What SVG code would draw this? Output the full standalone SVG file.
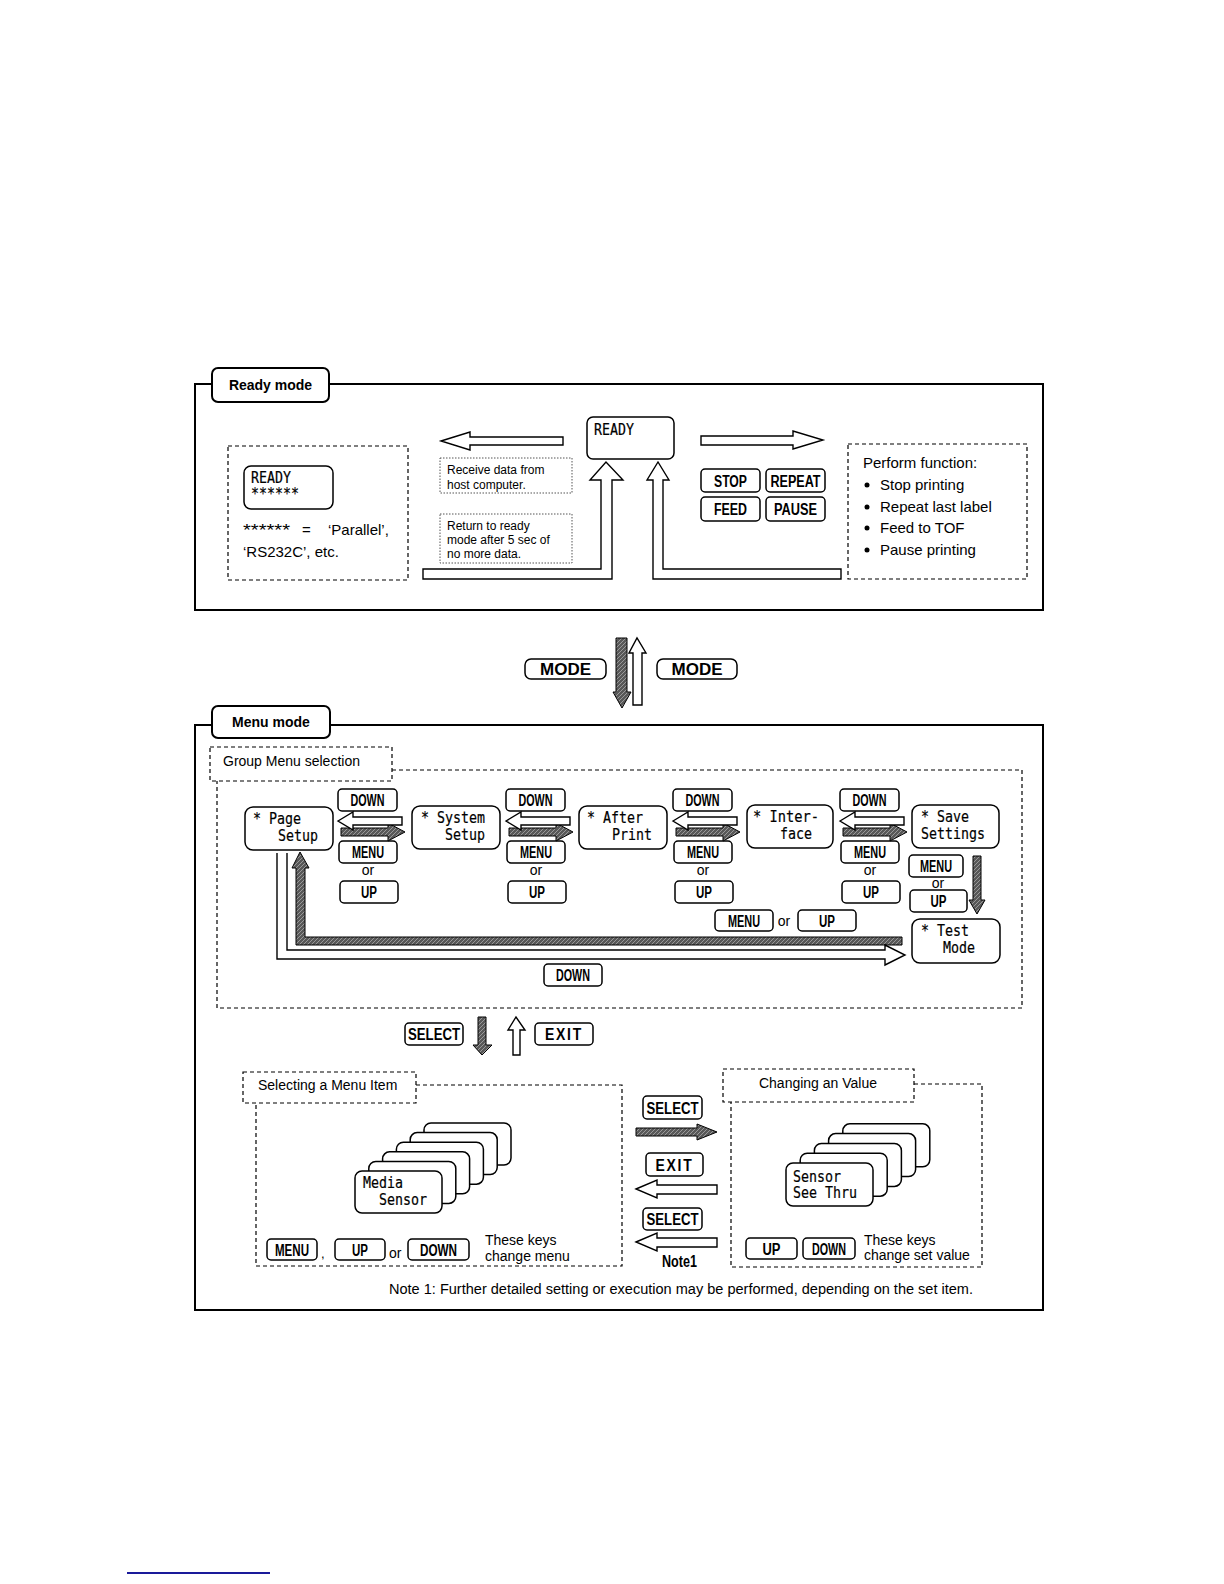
<svg xmlns="http://www.w3.org/2000/svg" width="1224" height="1584" viewBox="0 0 1224 1584">
<style>
.frame{fill:none;stroke:#000;stroke-width:2}
.tab{fill:#fff;stroke:#000;stroke-width:2}
.dash{fill:none;stroke:#000;stroke-width:1.2;stroke-dasharray:4 3}
.dashtab{fill:#fff;stroke:#000;stroke-width:1.2;stroke-dasharray:4 3}
.dot{fill:none;stroke:#555;stroke-width:1;stroke-dasharray:1.5 1.5}
.node{fill:#fff;stroke:#000;stroke-width:1.5}
.key{fill:#fff;stroke:#000;stroke-width:1.5}
.hol{fill:#fff;stroke:#000;stroke-width:1.4}
.drk{fill:url(#hatch);stroke:#000;stroke-width:1}
.kt{font-family:"Liberation Sans",Arial,sans-serif;font-weight:bold;font-size:16px}
.mono{font-family:"DejaVu Sans Mono","Liberation Mono",monospace;font-size:16px;stroke:#000;stroke-width:0.2}
.sans{font-family:"Liberation Sans",Arial,sans-serif}
.bold{font-family:"Liberation Sans",Arial,sans-serif;font-weight:bold}
</style>
<defs>
<pattern id="hatch" patternUnits="userSpaceOnUse" width="4" height="4">
<rect width="4" height="4" fill="#585858"/>
<path d="M0,4 L4,0" stroke="#999" stroke-width="1"/>
</pattern>
</defs>
<rect width="1224" height="1584" fill="#fff"/>

<g id="ready-frame">
<rect class="frame" x="195" y="384" width="848" height="226"/>
<rect class="tab" x="212" y="368" width="117" height="34" rx="6"/>
<text class="bold" x="270.5" y="390" font-size="14" text-anchor="middle">Ready mode</text>
</g>

<g id="ready-legend">
<rect class="dash" x="228" y="446" width="180" height="134"/>
<rect class="node" x="244" y="466" width="89" height="43" rx="7"/>
<text class="mono" x="251" y="483" textLength="40" lengthAdjust="spacingAndGlyphs">READY</text>
<text class="mono" x="251" y="499" textLength="48" lengthAdjust="spacingAndGlyphs">******</text>
<text class="sans" x="243" y="536" font-size="16" textLength="47" lengthAdjust="spacingAndGlyphs">******</text>
<text class="sans" x="302" y="535" font-size="15">=</text>
<text class="sans" x="328" y="535" font-size="15">‘Parallel’,</text>
<text class="sans" x="243" y="557" font-size="15">‘RS232C’, etc.</text>
</g>

<g id="ready-node">
<rect class="node" x="587" y="417" width="87" height="42" rx="6"/>
<text class="mono" x="594" y="435" textLength="40" lengthAdjust="spacingAndGlyphs">READY</text>
</g>

<g id="note-receive">
<rect class="dot" x="440" y="458" width="132" height="35"/>
<text class="sans" x="447" y="474" font-size="12">Receive data from</text>
<text class="sans" x="447" y="489" font-size="12">host computer.</text>
</g>
<g id="note-return">
<rect class="dot" x="440" y="514" width="132" height="49"/>
<text class="sans" x="447" y="530" font-size="12">Return to ready</text>
<text class="sans" x="447" y="544" font-size="12">mode after 5 sec of</text>
<text class="sans" x="447" y="558" font-size="12">no more data.</text>
</g>

<g id="ready-keys">
<rect class="key" x="701" y="469" width="59" height="23" rx="4"/>
<text class="kt" x="714" y="486.5" textLength="33" lengthAdjust="spacingAndGlyphs">STOP</text>
<rect class="key" x="766" y="469" width="59" height="23" rx="4"/>
<text class="kt" x="770.5" y="486.5" textLength="50" lengthAdjust="spacingAndGlyphs">REPEAT</text>
<rect class="key" x="701" y="497" width="59" height="24" rx="4"/>
<text class="kt" x="714" y="515" textLength="33" lengthAdjust="spacingAndGlyphs">FEED</text>
<rect class="key" x="766" y="497" width="59" height="24" rx="4"/>
<text class="kt" x="774" y="515" textLength="43" lengthAdjust="spacingAndGlyphs">PAUSE</text>
</g>

<g id="perform-function">
<rect class="dash" x="848" y="444" width="179" height="135"/>
<text class="sans" x="863" y="468" font-size="15">Perform function:</text>
<circle cx="867" cy="485" r="2.5"/>
<text class="sans" x="880" y="490" font-size="15">Stop printing</text>
<circle cx="867" cy="507" r="2.5"/>
<text class="sans" x="880" y="512" font-size="15">Repeat last label</text>
<circle cx="867" cy="528" r="2.5"/>
<text class="sans" x="880" y="533" font-size="15">Feed to TOF</text>
<circle cx="867" cy="550" r="2.5"/>
<text class="sans" x="880" y="555" font-size="15">Pause printing</text>
</g>

<g id="mode-keys">
<rect class="key" x="525" y="659" width="81" height="20" rx="6"/>
<text class="bold" x="565.5" y="675" font-size="17" text-anchor="middle">MODE</text>
<rect class="key" x="657" y="659" width="80" height="20" rx="6"/>
<text class="bold" x="697" y="675" font-size="17" text-anchor="middle">MODE</text>
</g>

<g id="menu-frame">
<rect class="frame" x="195" y="725" width="848" height="585"/>
<rect class="tab" x="212" y="706" width="118" height="32" rx="6"/>
<text class="bold" x="271" y="727" font-size="14" text-anchor="middle">Menu mode</text>
</g>

<g id="group-menu">
<path class="dash" d="M392,770 H1022 V1008 H217 V781"/>
<rect class="dashtab" x="210" y="747" width="182" height="34"/>
<text class="sans" x="223" y="766" font-size="14">Group Menu selection</text>
</g>

<g id="node-page-setup">
<rect class="node" x="245" y="807" width="88" height="43" rx="8"/>
<text class="mono" x="253" y="824" textLength="48" lengthAdjust="spacingAndGlyphs">* Page</text>
<text class="mono" x="278" y="841" textLength="40" lengthAdjust="spacingAndGlyphs">Setup</text>
</g>
<g id="node-system-setup">
<rect class="node" x="412" y="806" width="88" height="43" rx="8"/>
<text class="mono" x="421" y="823" textLength="64" lengthAdjust="spacingAndGlyphs">* System</text>
<text class="mono" x="445" y="840" textLength="40" lengthAdjust="spacingAndGlyphs">Setup</text>
</g>
<g id="node-after-print">
<rect class="node" x="579" y="806" width="88" height="43" rx="8"/>
<text class="mono" x="587" y="823" textLength="56" lengthAdjust="spacingAndGlyphs">* After</text>
<text class="mono" x="612" y="840" textLength="40" lengthAdjust="spacingAndGlyphs">Print</text>
</g>
<g id="node-interface">
<rect class="node" x="747" y="805" width="86" height="43" rx="8"/>
<text class="mono" x="753" y="822" textLength="66" lengthAdjust="spacingAndGlyphs">* Inter-</text>
<text class="mono" x="780" y="839" textLength="32" lengthAdjust="spacingAndGlyphs">face</text>
</g>
<g id="node-save-settings">
<rect class="node" x="912" y="805" width="87" height="43" rx="8"/>
<text class="mono" x="921" y="822" textLength="48" lengthAdjust="spacingAndGlyphs">* Save</text>
<text class="mono" x="921" y="839" textLength="64" lengthAdjust="spacingAndGlyphs">Settings</text>
</g>
<g id="node-test-mode">
<rect class="node" x="912" y="919" width="88" height="44" rx="8"/>
<text class="mono" x="921" y="936" textLength="48" lengthAdjust="spacingAndGlyphs">* Test</text>
<text class="mono" x="943" y="953" textLength="32" lengthAdjust="spacingAndGlyphs">Mode</text>
</g>

<g id="group-keys">
<rect class="key" x="338" y="789" width="59" height="22" rx="4"/>
<text class="kt" x="350.5" y="806" textLength="34" lengthAdjust="spacingAndGlyphs">DOWN</text>
<rect class="key" x="339" y="841" width="58" height="22" rx="4"/>
<text class="kt" x="352" y="858" textLength="32" lengthAdjust="spacingAndGlyphs">MENU</text>
<text class="sans" x="368" y="875" font-size="14" text-anchor="middle">or</text>
<rect class="key" x="340" y="881" width="58" height="22" rx="4"/>
<text class="kt" x="361" y="898" textLength="16" lengthAdjust="spacingAndGlyphs">UP</text>

<rect class="key" x="506" y="789" width="59" height="22" rx="4"/>
<text class="kt" x="518.5" y="806" textLength="34" lengthAdjust="spacingAndGlyphs">DOWN</text>
<rect class="key" x="507" y="841" width="58" height="22" rx="4"/>
<text class="kt" x="520" y="858" textLength="32" lengthAdjust="spacingAndGlyphs">MENU</text>
<text class="sans" x="536" y="875" font-size="14" text-anchor="middle">or</text>
<rect class="key" x="508" y="881" width="58" height="22" rx="4"/>
<text class="kt" x="529" y="898" textLength="16" lengthAdjust="spacingAndGlyphs">UP</text>

<rect class="key" x="673" y="789" width="59" height="22" rx="4"/>
<text class="kt" x="685.5" y="806" textLength="34" lengthAdjust="spacingAndGlyphs">DOWN</text>
<rect class="key" x="674" y="841" width="58" height="22" rx="4"/>
<text class="kt" x="687" y="858" textLength="32" lengthAdjust="spacingAndGlyphs">MENU</text>
<text class="sans" x="703" y="875" font-size="14" text-anchor="middle">or</text>
<rect class="key" x="675" y="881" width="58" height="22" rx="4"/>
<text class="kt" x="696" y="898" textLength="16" lengthAdjust="spacingAndGlyphs">UP</text>

<rect class="key" x="840" y="789" width="59" height="22" rx="4"/>
<text class="kt" x="852.5" y="806" textLength="34" lengthAdjust="spacingAndGlyphs">DOWN</text>
<rect class="key" x="841" y="841" width="58" height="22" rx="4"/>
<text class="kt" x="854" y="858" textLength="32" lengthAdjust="spacingAndGlyphs">MENU</text>
<text class="sans" x="870" y="875" font-size="14" text-anchor="middle">or</text>
<rect class="key" x="842" y="881" width="58" height="22" rx="4"/>
<text class="kt" x="863" y="898" textLength="16" lengthAdjust="spacingAndGlyphs">UP</text>

<rect class="key" x="909" y="855" width="54" height="22" rx="4"/>
<text class="kt" x="920" y="872" textLength="32" lengthAdjust="spacingAndGlyphs">MENU</text>
<text class="sans" x="938" y="888" font-size="14" text-anchor="middle">or</text>
<rect class="key" x="910" y="890" width="57" height="22" rx="4"/>
<text class="kt" x="930.5" y="907" textLength="16" lengthAdjust="spacingAndGlyphs">UP</text>

<rect class="key" x="715" y="910" width="58" height="21" rx="4"/>
<text class="kt" x="728" y="926.5" textLength="32" lengthAdjust="spacingAndGlyphs">MENU</text>
<text class="sans" x="784" y="926" font-size="14" text-anchor="middle">or</text>
<rect class="key" x="798" y="910" width="58" height="21" rx="4"/>
<text class="kt" x="819" y="926.5" textLength="16" lengthAdjust="spacingAndGlyphs">UP</text>

<rect class="key" x="544" y="964" width="58" height="22" rx="4"/>
<text class="kt" x="556" y="981" textLength="34" lengthAdjust="spacingAndGlyphs">DOWN</text>
</g>

<g id="select-exit-keys">
<rect class="key" x="405" y="1023" width="58" height="22" rx="4"/>
<text class="kt" x="408" y="1040" textLength="52" lengthAdjust="spacingAndGlyphs">SELECT</text>
<rect class="key" x="535" y="1023" width="58" height="22" rx="4"/>
<text class="kt" x="545" y="1040" textLength="38" lengthAdjust="spacingAndGlyphs" letter-spacing="2">EXIT</text>
</g>

<g id="selecting-menu-item">
<path class="dash" d="M416,1085 H622 V1266 H256 V1103"/>
<rect class="dashtab" x="243" y="1072" width="173" height="31"/>
<text class="sans" x="258" y="1090" font-size="14">Selecting a Menu Item</text>
<rect class="node" x="424" y="1123" width="87" height="42" rx="7"/>
<rect class="node" x="410.2" y="1132.6" width="87" height="42" rx="7"/>
<rect class="node" x="396.4" y="1142.2" width="87" height="42" rx="7"/>
<rect class="node" x="382.6" y="1151.8" width="87" height="42" rx="7"/>
<rect class="node" x="368.8" y="1161.4" width="87" height="42" rx="7"/>
<rect class="node" x="355" y="1171" width="87" height="42" rx="7"/>
<text class="mono" x="363" y="1188" textLength="40" lengthAdjust="spacingAndGlyphs">Media</text>
<text class="mono" x="379" y="1205" textLength="48" lengthAdjust="spacingAndGlyphs">Sensor</text>
<rect class="key" x="267" y="1239" width="50" height="21" rx="4"/>
<text class="kt" x="275" y="1255.5" textLength="34" lengthAdjust="spacingAndGlyphs">MENU</text>
<text class="sans" x="321" y="1258" font-size="13">,</text>
<rect class="key" x="335" y="1239" width="50" height="21" rx="4"/>
<text class="kt" x="352" y="1255.5" textLength="16" lengthAdjust="spacingAndGlyphs">UP</text>
<text class="sans" x="389" y="1258" font-size="14">or</text>
<rect class="key" x="408" y="1239" width="61" height="21" rx="4"/>
<text class="kt" x="420" y="1255.5" textLength="37" lengthAdjust="spacingAndGlyphs">DOWN</text>
<text class="sans" x="485" y="1245" font-size="14">These keys</text>
<text class="sans" x="485" y="1261" font-size="14">change menu</text>
</g>

<g id="changing-value">
<path class="dash" d="M914,1084 H982 V1267 H731 V1102"/>
<rect class="dashtab" x="723" y="1069" width="191" height="33"/>
<text class="sans" x="818" y="1088" font-size="14" text-anchor="middle">Changing an Value</text>
<rect class="node" x="842.8" y="1123.8" width="87" height="43" rx="7"/>
<rect class="node" x="828.6" y="1133.6" width="87" height="43" rx="7"/>
<rect class="node" x="814.4" y="1143.4" width="87" height="43" rx="7"/>
<rect class="node" x="800.2" y="1153.2" width="87" height="43" rx="7"/>
<rect class="node" x="786" y="1163" width="87" height="43" rx="7"/>
<text class="mono" x="793" y="1182" textLength="48" lengthAdjust="spacingAndGlyphs">Sensor</text>
<text class="mono" x="793" y="1198" textLength="64" lengthAdjust="spacingAndGlyphs">See Thru</text>
<rect class="key" x="746" y="1238" width="51" height="21" rx="4"/>
<text class="kt" x="762.5" y="1254.5" textLength="18" lengthAdjust="spacingAndGlyphs">UP</text>
<rect class="key" x="803" y="1238" width="52" height="21" rx="4"/>
<text class="kt" x="812" y="1254.5" textLength="34" lengthAdjust="spacingAndGlyphs">DOWN</text>
<text class="sans" x="864" y="1245" font-size="14">These keys</text>
<text class="sans" x="864" y="1260" font-size="14">change set value</text>
</g>

<g id="middle-keys">
<rect class="key" x="643" y="1096" width="59" height="23" rx="4"/>
<text class="kt" x="646.5" y="1113.5" textLength="52" lengthAdjust="spacingAndGlyphs">SELECT</text>
<rect class="key" x="646" y="1153" width="57" height="23" rx="4"/>
<text class="kt" x="655.5" y="1170.5" textLength="38" lengthAdjust="spacingAndGlyphs" letter-spacing="2">EXIT</text>
<rect class="key" x="643" y="1208" width="59" height="22" rx="4"/>
<text class="kt" x="646.5" y="1225" textLength="52" lengthAdjust="spacingAndGlyphs">SELECT</text>
<text class="kt" x="662" y="1267" font-size="14" textLength="35" lengthAdjust="spacingAndGlyphs">Note1</text>
</g>

<g id="footnote">
<text class="sans" x="389" y="1294" font-size="14" textLength="584" lengthAdjust="spacingAndGlyphs">Note 1: Further detailed setting or execution may be performed, depending on the set item.</text>
</g>

<g id="connectors">
<polygon class="hol" points="441,441 470,432 470,437 563,437 563,445 470,445 470,450"/>
<polygon class="hol" points="701,436 793,436 793,431 823,440 793,449 793,445 701,445"/>
<polygon class="hol" points="423,569 601,569 601,480 590,480 606,462 623,480 612,480 612,579 423,579"/>
<polygon class="hol" points="841,569 663,569 663,480 669,480 658,462 647,480 653,480 653,579 841,579"/>

<polygon class="drk" points="616,638 627,638 627,692 631,692 622,708 613,692 616,692"/>
<polygon class="hol" points="633,705 633,653 629,653 637,638 646,653 642,653 642,705"/>

<polygon class="drk" points="341,828 388,828 388,823 405,832 388,841 388,836 341,836"/>
<polygon class="hol" points="338,821 353,812 353,817 402,817 402,825 353,825 353,830"/>
<polygon class="drk" points="509,828 556,828 556,823 573,832 556,841 556,836 509,836"/>
<polygon class="hol" points="506,821 521,812 521,817 570,817 570,825 521,825 521,830"/>
<polygon class="drk" points="676,828 723,828 723,823 740,832 723,841 723,836 676,836"/>
<polygon class="hol" points="673,821 688,812 688,817 737,817 737,825 688,825 688,830"/>
<polygon class="drk" points="843,828 890,828 890,823 907,832 890,841 890,836 843,836"/>
<polygon class="hol" points="840,821 855,812 855,817 904,817 904,825 855,825 855,830"/>

<polygon class="drk" points="973,856 981,856 981,900 985,900 977,914 969,900 973,900"/>
<polygon class="drk" points="300,852 309,868 305,868 305,937 902,937 902,945 296,945 296,868 292,868"/>
<path class="hol" d="M277,853 V959 H885 V965 L905,955 L885,945 V950 H287 V853"/>

<polygon class="drk" points="478,1017 486,1017 486,1045 492,1045 482,1055 473,1045 478,1045"/>
<polygon class="hol" points="513,1055 513,1030 508,1030 516,1017 525,1030 520,1030 520,1055"/>

<polygon class="drk" points="636,1128 697,1128 697,1124 717,1132 697,1140 697,1136 636,1136"/>
<polygon class="hol" points="636,1189 657,1180 657,1185 717,1185 717,1194 657,1194 657,1198"/>
<polygon class="hol" points="636,1242 657,1233 657,1238 717,1238 717,1247 657,1247 657,1251"/>
</g>

<line x1="127" y1="1573" x2="270" y2="1573" stroke="#1a1a9a" stroke-width="2"/>
</svg>
